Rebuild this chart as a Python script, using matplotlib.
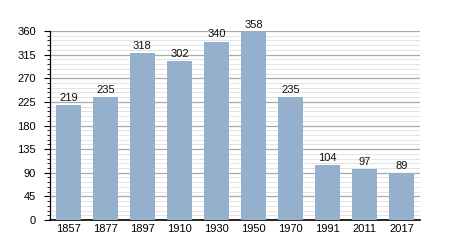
import matplotlib
matplotlib.use("Agg")
import matplotlib.pyplot as plt
from matplotlib.ticker import MultipleLocator

plt.rcParams['font.family'] = ['Liberation Sans', 'DejaVu Sans']

years = ["1857", "1877", "1897", "1910", "1930", "1950", "1970", "1991", "2011", "2017"]
population = [219, 235, 318, 302, 340, 358, 235, 104, 97, 89]

fig = plt.figure(figsize=(4.5, 2.5), dpi=100)
ax = fig.add_axes([0.111, 0.12, 0.822, 0.756])

x = range(len(years))
ax.bar(x, population, width=0.69, color="#95b0cd", zorder=3)
for xi, v in zip(x, population):
    ax.text(xi, v + 4, str(v), ha="center", va="bottom", fontsize=8, color="#111111", zorder=4)

ax.set_xlim(-0.5, len(years) - 0.5)
ax.set_ylim(0, 360)
ax.yaxis.set_major_locator(MultipleLocator(45))
ax.yaxis.set_minor_locator(MultipleLocator(9))
ax.grid(which="major", axis="y", color="#aaaaaa", linewidth=0.9, zorder=0)
ax.grid(which="minor", axis="y", color="#dedede", linewidth=0.6, zorder=0)
ax.set_xticks(list(x))
ax.set_xticklabels(years, fontsize=8)
ax.tick_params(axis="x", length=0, pad=3)
ax.tick_params(axis="y", which="major", length=4, width=0.8, labelsize=8, pad=6)
ax.tick_params(axis="y", which="minor", length=2, width=0.6)
for s in ["top", "right"]:
    ax.spines[s].set_visible(False)
ax.spines["left"].set_linewidth(0.9)
ax.spines["bottom"].set_linewidth(1.2)

fig.savefig("out.png", dpi=100)
